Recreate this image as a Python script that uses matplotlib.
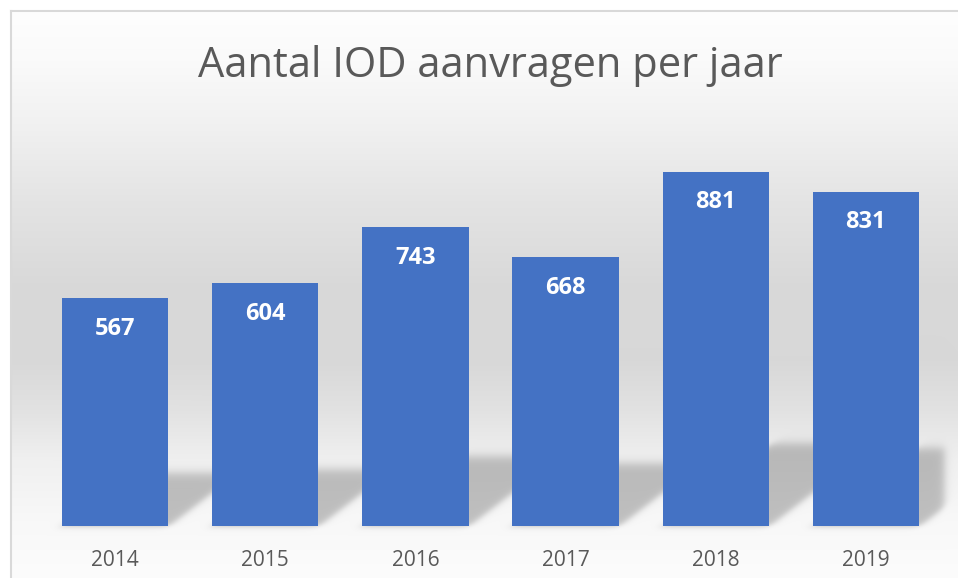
import numpy as np
import matplotlib.pyplot as plt

years = ['2014', '2015', '2016', '2017', '2018', '2019']
aanvragen = [567, 604, 743, 668, 881, 831]
title = 'Aantal IOD aanvragen per jaar'

W, H = 958, 578
fig = plt.figure(figsize=(W / 100, H / 100), dpi=100)
fig.patch.set_facecolor('white')

bgax = fig.add_axes([0, 0, 1, 1], zorder=0)
ax = fig.add_axes([40 / W, 52 / H, 901 / W, 402 / H], zorder=1)
ax.patch.set_alpha(0)
x = np.arange(len(years))
bars = ax.bar(x, aanvragen, width=0.707, color='#4472C4', zorder=3)
ax.set_xlim(-0.5, len(years) - 0.5)
ax.set_ylim(0, 1000)
for s in ax.spines.values():
    s.set_visible(False)
ax.set_yticks([])
ax.set_xticks(x)
ax.set_xticklabels(years, fontsize=15, color='#595959', family='Open Sans')
ax.tick_params(axis='x', length=0, pad=17)

for xi, v in zip(x, aanvragen):
    ax.annotate(str(v), (xi, v), xytext=(0, -22), textcoords='offset points',
                ha='center', va='center', color='white', fontsize=17,
                fontweight='bold', family='Open Sans', zorder=4)

fig.text(490 / W, 1 - 77 / H, title, ha='center', va='baseline', fontsize=30,
         color='#595959', family='Open Sans')

# ---- decorative background (vertical gradient + soft perspective shadows) ----
yy, xx = np.mgrid[0:H, 0:W].astype(float)
ys = [12, 60, 130, 200, 290, 360, 410, 460, 520, 578]
vs = [254, 250, 240, 228, 216, 216, 226, 240, 248, 252]
bg = np.interp(yy, ys, vs)


def sig(t):
    return 1 / (1 + np.exp(-np.clip(t, -50, 50)))


shadow = np.zeros_like(bg)
half = 0.707 / 2
for xi, v in zip(x, aanvragen):
    (L, b), (R, t) = ax.transData.transform([(xi - half, 0), (xi + half, v)])
    b_r, t_r = H - b, H - t
    sh = 0.235 * (b_r - t_r)
    d = 1.3 * sh
    tt = (b_r - yy) / sh
    msk = (sig((yy - (b_r - sh)) / 3.0) * sig((b_r - yy) / 1.5)
           * sig((xx - L - d * tt) / 3.0) * sig((R + d * tt - xx) / 3.0))
    shadow = np.maximum(shadow, msk)
x_clip = ax.transData.transform([(len(years) - 0.5, 0)])[0][0]
shadow *= sig((x_clip + 3 - xx) / 2.5)
bg = bg * (1 - 0.23 * shadow)
bg[yy < 12] = 255
bg[xx < 11] = 255
img = np.dstack([bg, bg, bg]) / 255.0

bgax.imshow(img, extent=[0, W, H, 0], aspect='auto', interpolation='bilinear')
bgax.plot([11, W], [11, 11], color='#d9d9d9', lw=1.5)
bgax.plot([11, 11], [11, H], color='#d9d9d9', lw=1.5)
bgax.set_xlim(0, W)
bgax.set_ylim(H, 0)
bgax.axis('off')

fig.savefig('out.png', dpi=100)
